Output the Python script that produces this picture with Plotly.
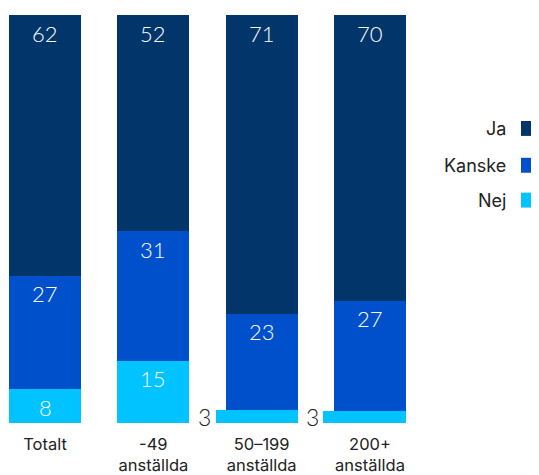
import plotly.graph_objects as go

categories = ["Totalt", "-49<br>anställda", "50–199<br>anställda", "200+<br>anställda"]
nej = [8, 15, 3, 3]
kanske = [27, 31, 23, 27]
ja = [62, 52, 71, 70]

series_colors = {"Ja": "#02366b", "Kanske": "#0050cb", "Nej": "#00c3ff"}

FONT = "Inter"
NUM_FONT = "Lato"
BAR_W = 0.665
STEP_PX = 108.33
nej_width = [BAR_W, BAR_W, 0.75, 0.765]
nej_offset = [-BAR_W / 2, -BAR_W / 2, -BAR_W / 2 - 0.085, -BAR_W / 2 - 0.1]

fig = go.Figure()
fig.add_trace(go.Bar(x=categories, y=nej, name="Nej", marker_color=series_colors["Nej"],
                     width=nej_width, offset=nej_offset, marker_line_width=0))
fig.add_trace(go.Bar(x=categories, y=kanske, name="Kanske", marker_color=series_colors["Kanske"],
                     width=BAR_W, offset=-BAR_W / 2, marker_line_width=0))
fig.add_trace(go.Bar(x=categories, y=ja, name="Ja", marker_color=series_colors["Ja"],
                     width=BAR_W, offset=-BAR_W / 2, marker_line_width=0))

annotations = []
for i, cat in enumerate(categories):
    total = nej[i] + kanske[i] + ja[i]
    segs = [("Nej", nej[i]), ("Kanske", kanske[i]), ("Ja", ja[i])]
    cum = 0
    for name, v in segs:
        bottom = cum / total * 100
        cum += v
        top = cum / total * 100
        if v < 5:
            annotations.append(dict(x=i, y=(bottom + top) / 2, xref="x", yref="y", text=str(v),
                                    showarrow=False, xanchor="right", yanchor="middle",
                                    xshift=-BAR_W / 2 * STEP_PX - 13,
                                    font=dict(family=NUM_FONT, size=23, color="#222222", weight=300)))
        else:
            annotations.append(dict(x=i, y=top, xref="x", yref="y", text=str(v),
                                    showarrow=False, xanchor="center", yanchor="middle",
                                    yshift=-18,
                                    font=dict(family=NUM_FONT, size=22, color="#ffffff", weight=300)))

# page is offset by 8px (body margin); plot area spans page x 8..420, y 15..425
OFF = 8
plot_w = 412
plot_h = 410
legend_items = [("Ja", 129), ("Kanske", 166), ("Nej", 201)]
shapes = []
for name, ypx in legend_items:
    yp = 1 - (ypx - 15) / plot_h
    annotations.append(dict(x=(508 - OFF) / plot_w, y=yp, xref="paper", yref="paper", text=name,
                            showarrow=False, xanchor="right", yanchor="middle",
                            font=dict(family=FONT, size=18, color="#222222")))
    shapes.append(dict(type="rect", xref="paper", yref="paper",
                       x0=(521 - OFF) / plot_w, x1=(536 - OFF) / plot_w,
                       y0=yp - 7.5 / plot_h, y1=yp + 7.5 / plot_h,
                       fillcolor=series_colors[name], line=dict(width=0)))

fig.update_layout(
    barmode="stack",
    barnorm="percent",
    width=531, height=467,
    margin=dict(l=0, r=119, t=7, b=50),
    paper_bgcolor="white", plot_bgcolor="white",
    showlegend=False,
    annotations=annotations,
    shapes=shapes,
    font=dict(family=FONT, color="#222222"),
)
fig.update_xaxes(range=[-37 / STEP_PX, (412 - 37) / STEP_PX], showgrid=False, zeroline=False,
                 showline=False, ticks="", ticklabelstandoff=9,
                 tickfont=dict(family=FONT, size=16.5, color="#222222"))
fig.update_yaxes(range=[0, 100], visible=False)

fig.write_html("out.html")
